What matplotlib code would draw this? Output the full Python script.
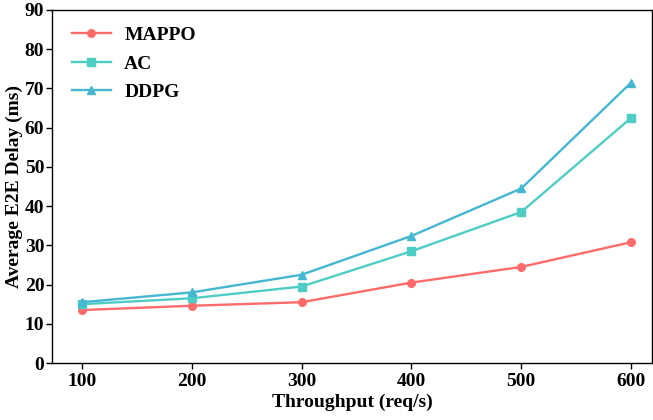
import matplotlib
matplotlib.use("Agg")
import matplotlib.pyplot as plt

throughput = [100, 200, 300, 400, 500, 600]
mappo = [13.5, 14.6, 15.5, 20.5, 24.5, 30.8]
ac = [15.0, 16.5, 19.5, 28.5, 38.5, 62.5]
ddpg = [15.5, 18.0, 22.5, 32.4, 44.5, 71.5]

plt.rcParams['font.family'] = ['Liberation Serif', 'DejaVu Serif']
plt.rcParams['font.weight'] = 'bold'

fig = plt.figure(figsize=(6.53, 4.2), dpi=100)
ax = fig.add_axes([52/653, 57/420, 600/653, 353/420])

ax.plot(throughput, mappo, color='#FF6B6B', marker='o', markersize=5.5, linewidth=1.7, label='MAPPO')
ax.plot(throughput, ac, color='#4ECDC4', marker='s', markersize=5.5, linewidth=1.7, label='AC')
ax.plot(throughput, ddpg, color='#45B7D1', marker='^', markersize=5.5, linewidth=1.7, label='DDPG')

ax.set_xlim(72.7, 619)
ax.set_ylim(0, 90)
ax.set_xticks(throughput)
ax.set_yticks(range(0, 91, 10))
ax.tick_params(axis='both', direction='out', labelsize=14, width=1, length=4)
ax.tick_params(axis='y', pad=1.5)
ax.tick_params(axis='x', pad=3)
for lab in ax.get_xticklabels() + ax.get_yticklabels():
    lab.set_fontweight('bold')
ax.set_xlabel('Throughput (req/s)', fontsize=14, fontweight='bold', labelpad=3)
ax.set_ylabel('Average E2E Delay (ms)', fontsize=14, fontweight='bold', labelpad=1.5)
for s in ax.spines.values():
    s.set_linewidth(1.0)

leg = ax.legend(loc='upper left', frameon=False, prop={'weight': 'bold', 'size': 14},
                handlelength=2.0, handletextpad=0.7, labelspacing=0.55,
                borderaxespad=0.0, bbox_to_anchor=(0.02, 0.975))

fig.savefig('out.png', dpi=100)
